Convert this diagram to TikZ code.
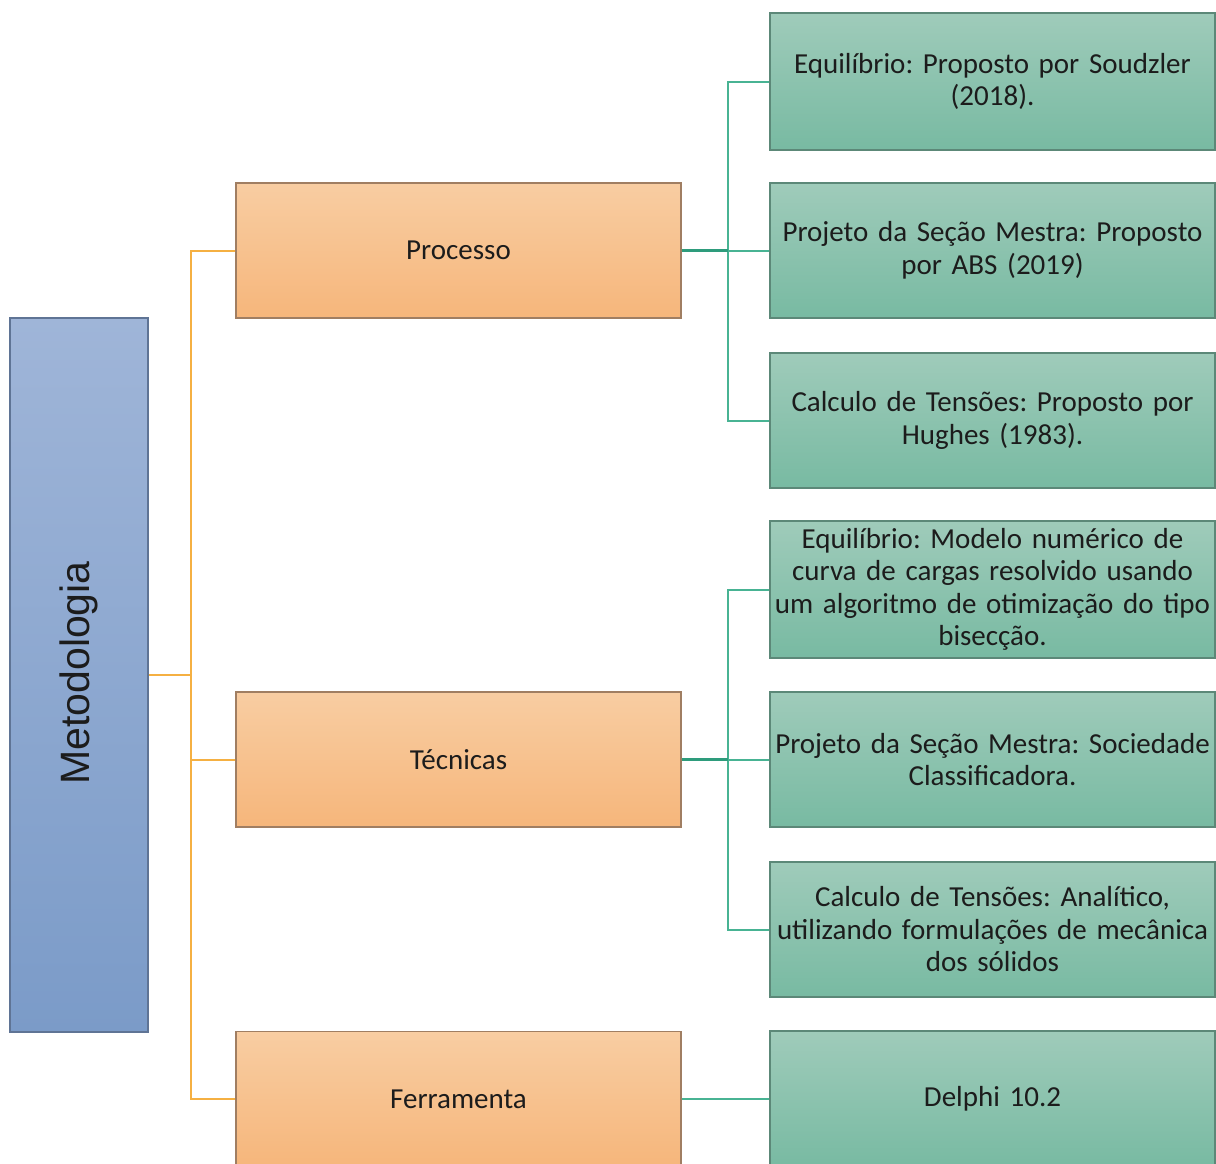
\documentclass[tikz,border=0pt]{standalone}
\usepackage{fontspec}
\setmainfont{Carlito}
\newfontfamily\titlefont{Liberation Sans}
\frenchspacing
\definecolor{blueTop}{HTML}{9FB5D8}
\definecolor{blueBot}{HTML}{7B9BC8}
\definecolor{blueLine}{HTML}{5F7495}
\definecolor{orTop}{HTML}{F8CDA2}
\definecolor{orBot}{HTML}{F6B67B}
\definecolor{orLine}{HTML}{A07E62}
\definecolor{grTop}{HTML}{9FCBBA}
\definecolor{grBot}{HTML}{78BAA2}
\definecolor{grLine}{HTML}{5C8878}
\definecolor{orConn}{HTML}{F5B042}
\definecolor{grConn}{HTML}{48B393}
\definecolor{grConnDark}{HTML}{2E9C7C}
\definecolor{ink}{HTML}{1C1C1C}
\tikzset{
  rootbox/.style={draw=blueLine, line width=1.4pt, top color=blueTop, bottom color=blueBot,
    minimum width=138pt, minimum height=714pt, inner sep=0pt},
  midbox/.style={draw=orLine, line width=1.4pt, top color=orTop, bottom color=orBot,
    minimum width=445pt, minimum height=135pt, inner sep=0pt, text=ink,
    font=\fontsize{29}{33}\selectfont},
  leafbox/.style={draw=grLine, line width=1.4pt, top color=grTop, bottom color=grBot,
    minimum width=445pt, minimum height=135pt, inner sep=0pt, text=ink, align=center,
    text width=441pt, font=\fontsize{29}{32.5}\selectfont},
  oline/.style={draw=orConn, line width=2pt},
  gline/.style={draw=grConn, line width=2pt},
  gstem/.style={draw=grConnDark, line width=2.4pt},
}
\begin{document}
\begin{tikzpicture}[x=1pt, y=-1pt]
\useasboundingbox (0,0) rectangle (1216,1163);

% root
\node[rootbox] (meto) at (79,675) {};
\node[rotate=90, text=ink, font=\titlefont\fontsize{41}{41}\selectfont] (metolabel) at (79,673) {Metodologia};

% second level
\node[midbox] (proc) at (458.5,250.5) {Processo};
\node[midbox] (tec)  at (458.5,759.5) {Técnicas};
\node[midbox] (ferr) at (458.5,1099)  {Ferramenta};

% leaves
\node[leafbox, minimum height=137pt] (g1) at (992.5,81.5) {Equilíbrio: Proposto por Soudzler\\(2018).};
\node[leafbox] (g2) at (992.5,250.5) {Projeto da Seção Mestra: Proposto\\por ABS (2019)};
\node[leafbox] (g3) at (992.5,420.5) {Calculo de Tensões: Proposto por\\Hughes (1983).};
\node[leafbox, minimum height=137pt] (g4) at (992.5,589.5) {Equilíbrio: Modelo numérico de\\curva de cargas resolvido usando\\um algoritmo de otimização do tipo\\bisecção.};
\node[leafbox] (g5) at (992.5,759.5) {Projeto da Seção Mestra: Sociedade\\Classificadora.};
\node[leafbox] (g6) at (992.5,929.5) {Calculo de Tensões: Analítico,\\utilizando formulações de mecânica\\dos sólidos};
\node[leafbox, minimum height=136pt] (g7) at (992.5,1099) {Delphi 10.2};

% junction columns
\coordinate (oj) at (191,0);
\coordinate (gj) at (728,0);

% root to second level
\draw[oline] (meto.east) -- (meto.east -| oj);
\draw[oline] (meto.east -| oj) |- (proc.west);
\draw[oline] (meto.east -| oj) |- (tec.west);
\draw[oline] (meto.east -| oj) |- (ferr.west);

% Processo branch
\draw[gline] (proc.east -| gj) |- (g1.west);
\draw[gline] (proc.east -| gj) |- (g3.west);
\draw[gline] (proc.east -| gj) -- (g2.west);
\draw[gstem] (proc.east) -- (proc.east -| gj);

% Técnicas branch
\draw[gline] (tec.east -| gj) |- (g4.west);
\draw[gline] (tec.east -| gj) |- (g6.west);
\draw[gline] (tec.east -| gj) -- (g5.west);
\draw[gstem] (tec.east) -- (tec.east -| gj);

% Ferramenta branch
\draw[gline] (ferr.east) -- (g7.west);
\end{tikzpicture}
\end{document}
